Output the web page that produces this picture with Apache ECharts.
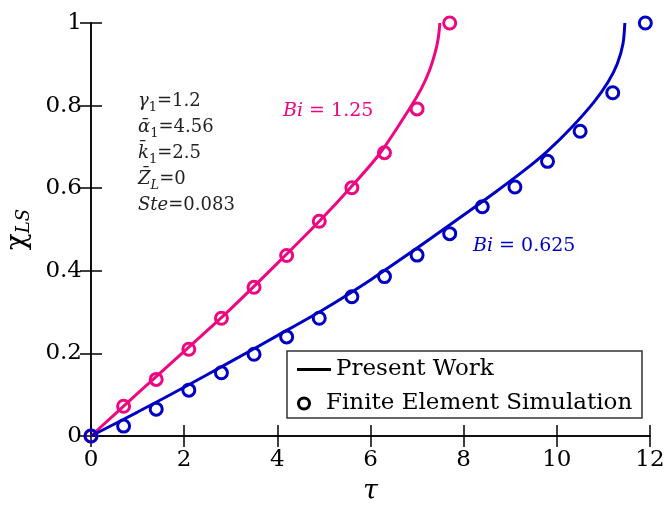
<!DOCTYPE html>
<html>
<head>
<meta charset="utf-8">
<script src="https://cdn.jsdelivr.net/npm/echarts@6/dist/echarts.min.js"></script>
<style>html,body{margin:0;padding:0;background:#fff}#c{width:666px;height:511px}</style>
</head>
<body>
<div id="c"></div>
<script>
// Finite element simulation points
const feTauPink = [0, 0.7, 1.4, 2.1, 2.8, 3.5, 4.2, 4.9, 5.6, 6.3, 7.0, 7.7];
const fePink    = [0, 0.072, 0.137, 0.21, 0.285, 0.36, 0.437, 0.52, 0.601, 0.686, 0.792, 1.0];
const feTauBlue = [0, 0.7, 1.4, 2.1, 2.8, 3.5, 4.2, 4.9, 5.6, 6.3, 7.0, 7.7, 8.4, 9.1, 9.8, 10.5, 11.2, 11.9];
const feBlue    = [0, 0.024, 0.065, 0.111, 0.153, 0.198, 0.24, 0.285, 0.337, 0.386, 0.438, 0.49, 0.555, 0.603, 0.665, 0.738, 0.831, 1.0];
// Present work curves
const pwTauPink = [0, 1, 2, 3, 4, 4.9, 5.56, 6.2, 6.84, 7.1, 7.27, 7.38, 7.45, 7.49];
const pwPink    = [0, 0.103, 0.205, 0.308, 0.418, 0.52, 0.60, 0.684, 0.793, 0.843, 0.886, 0.925, 0.96, 1.0];
const pwTauBlue = [0, 1, 2, 3, 4, 5, 6, 7, 8, 8.7, 9.3, 9.8, 10.3, 10.8, 11.1, 11.3, 11.42, 11.46];
const pwBlue    = [0, 0.058, 0.118, 0.18, 0.243, 0.307, 0.378, 0.455, 0.535, 0.592, 0.643, 0.69, 0.745, 0.809, 0.857, 0.902, 0.95, 1.0];
const xTicks = [0, 2, 4, 6, 8, 10, 12];
const yTicks = [0, 0.2, 0.4, 0.6, 0.8, 1];

const PINK = '#ee0780';
const BLUE = '#0000c4';
const zip = (a, b) => a.map((v, i) => [v, b[i]]);
const SERIF = '"DejaVu Serif", serif';

const axisCommon = {
  type: 'value',
  axisLine: { show: true, lineStyle: { color: '#000', width: 1.5 } },
  axisTick: { show: true, inside: true, length: 11, lineStyle: { color: '#000', width: 1.5 } },
  splitLine: { show: false }
};

const chart = echarts.init(document.getElementById('c'), null, { renderer: 'canvas' });
chart.setOption({
  animation: false,
  backgroundColor: '#fff',
  grid: { left: 91, right: 16, top: 23, bottom: 75, containLabel: false, outerBoundsMode: 'none' },
  xAxis: [
    Object.assign({}, axisCommon, {
      position: 'bottom', min: xTicks[0], max: xTicks[xTicks.length - 1], interval: xTicks[1] - xTicks[0],
      axisLabel: { show: true, margin: 13, fontFamily: SERIF, fontSize: 23, color: '#000' },
      name: 'τ', nameLocation: 'middle', nameGap: 42,
      nameTextStyle: { fontFamily: SERIF, fontStyle: 'italic', fontSize: 27, color: '#000' }
    }),
    Object.assign({}, axisCommon, {
      position: 'top', min: xTicks[0], max: xTicks[xTicks.length - 1], interval: xTicks[1] - xTicks[0],
      axisLabel: { show: false }
    })
  ],
  yAxis: [
    Object.assign({}, axisCommon, {
      position: 'left', min: yTicks[0], max: yTicks[yTicks.length - 1], interval: 0.2,
      axisLabel: { show: true, margin: 9, fontFamily: SERIF, fontSize: 23, color: '#000' },
      name: '{c|χ}{s|LS}', nameLocation: 'middle', nameGap: 58, nameRotate: 90,
      nameTextStyle: {
        color: '#000',
        rich: {
          c: { fontFamily: SERIF, fontSize: 28, lineHeight: 30, color: '#000' },
          s: { fontFamily: SERIF, fontStyle: 'italic', fontSize: 18, lineHeight: 18, verticalAlign: 'bottom', color: '#000' }
        }
      }
    }),
    Object.assign({}, axisCommon, {
      position: 'right', min: yTicks[0], max: yTicks[yTicks.length - 1], interval: 0.2,
      axisLabel: { show: false }
    })
  ],
  legend: [
    {
      data: [{ name: 'Present Work', icon: 'rect', itemStyle: { color: '#000', borderWidth: 0 } }],
      left: 292, top: 353, itemWidth: 34, itemHeight: 3, z: 6,
      selectedMode: false,
      textStyle: { fontFamily: SERIF, fontSize: 23, color: '#000' }
    },
    {
      data: [{ name: 'Finite Element Simulation', icon: 'circle', itemStyle: { color: '#fff', borderColor: '#000', borderWidth: 3 } }],
      left: 292, top: 387, itemWidth: 34, itemHeight: 11, z: 6,
      selectedMode: false,
      textStyle: { fontFamily: SERIF, fontSize: 23, color: '#000' }
    }
  ],
  graphic: [
    { type: 'rect', z: 4, shape: { x: 287, y: 351, width: 355, height: 67 },
      style: { fill: '#fff', stroke: '#333', lineWidth: 1.5 } },
    { type: 'text', z: 5, left: 138, top: 92,
      style: {
        text: '{mi|γ}{sub|1}{n|=1.2}\n{mi|ᾱ}{sub|1}{n|=4.56}\n{mi|k̄}{sub|1}{n|=2.5}\n{mi|Z̄}{subi|L}{n|=0}\n{mi|Ste}{n|=0.083}',
        rich: {
          n: { fontFamily: SERIF, fontSize: 18, lineHeight: 26, fill: '#222' },
          mi: { fontFamily: SERIF, fontStyle: 'italic', fontSize: 18, lineHeight: 26, fill: '#222' },
          sub: { fontFamily: SERIF, fontSize: 13, lineHeight: 19, verticalAlign: 'bottom', fill: '#222' },
          subi: { fontFamily: SERIF, fontStyle: 'italic', fontSize: 13, lineHeight: 19, verticalAlign: 'bottom', fill: '#222' }
        }
      } },
    { type: 'text', z: 5, left: 283, top: 102,
      style: {
        text: '{i|Bi}{n| = 1.25}',
        rich: {
          i: { fontFamily: SERIF, fontStyle: 'italic', fontSize: 19, fill: PINK },
          n: { fontFamily: SERIF, fontSize: 19, fill: PINK }
        }
      } },
    { type: 'text', z: 5, left: 473, top: 237,
      style: {
        text: '{i|Bi}{n| = 0.625}',
        rich: {
          i: { fontFamily: SERIF, fontStyle: 'italic', fontSize: 19, fill: BLUE },
          n: { fontFamily: SERIF, fontSize: 19, fill: BLUE }
        }
      } }
  ],
  series: [
    { name: 'Present Work', type: 'line', data: zip(pwTauPink, pwPink), smooth: 0.3, showSymbol: false, symbol: 'none',
      lineStyle: { color: PINK, width: 3 }, itemStyle: { color: PINK }, z: 2 },
    { name: 'Present Work', type: 'line', data: zip(pwTauBlue, pwBlue), smooth: 0.3, showSymbol: false, symbol: 'none',
      lineStyle: { color: BLUE, width: 3 }, itemStyle: { color: BLUE }, z: 2 },
    { name: 'Finite Element Simulation', type: 'scatter', data: zip(feTauPink, fePink), symbol: 'circle', symbolSize: 12,
      itemStyle: { color: 'rgba(255,255,255,0)', borderColor: PINK, borderWidth: 3, opacity: 1 }, z: 3 },
    { name: 'Finite Element Simulation', type: 'scatter', data: zip(feTauBlue, feBlue), symbol: 'circle', symbolSize: 12,
      itemStyle: { color: 'rgba(255,255,255,0)', borderColor: BLUE, borderWidth: 3, opacity: 1 }, z: 3 }
  ]
});
</script>
</body>
</html>
